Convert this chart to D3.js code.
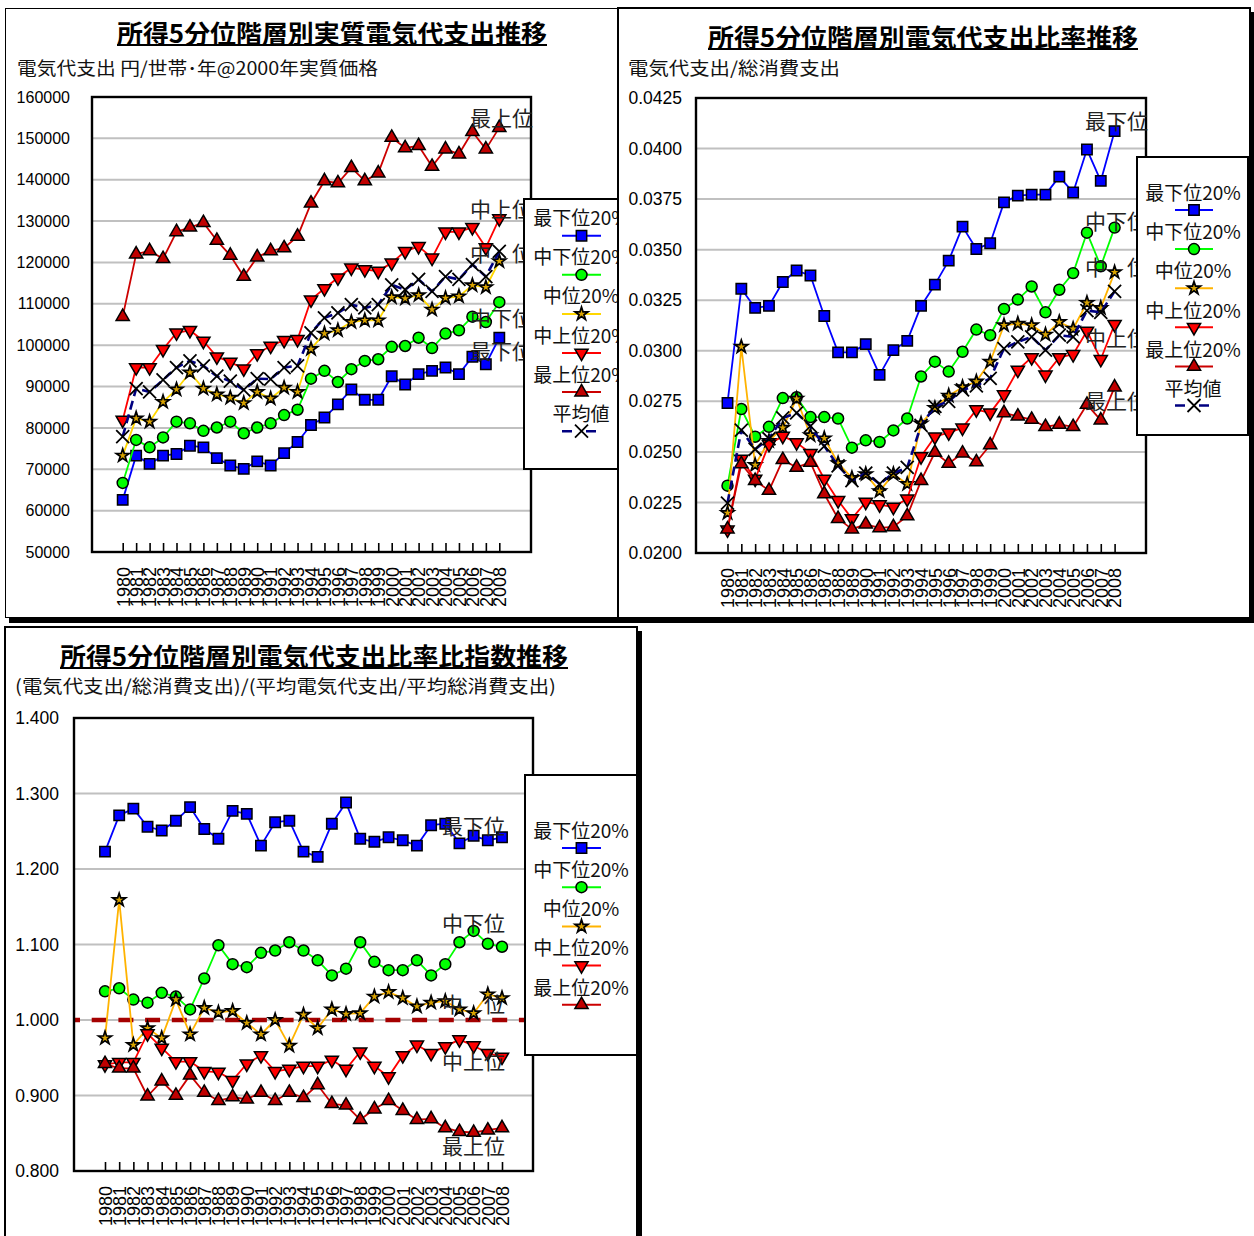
<!DOCTYPE html>
<html><head><meta charset="utf-8">
<script src="https://cdn.jsdelivr.net/npm/d3@7"></script>
<style>body{margin:0;background:#fff;overflow:hidden} svg{display:block}</style>
</head><body>
<svg id="c" width="1254" height="1236"></svg>
<script>
// ---------- DATA ----------
const years = ["1980","1981","1982","1983","1984","1985","1986","1987","1988","1989","1990","1991","1992","1993","1994","1995","1996","1997","1998","1999","2000","2001","2002","2003","2004","2005","2006","2007","2008"];
const seriesNames = ["最下位20%","中下位20%","中位20%","中上位20%","最上位20%","平均値"];
const tierLabels = ["最下位","中下位","中　位","中上位","最上位"];

// Panel 1: real electricity expenditure (yen / household / year, 2000 prices)
const p1Bottom = [62600,73300,71300,73300,73700,75700,75300,72700,70900,70100,71900,70900,73900,76600,80700,82500,85700,89300,86800,86800,92500,90500,93000,93800,94600,93000,97200,95400,101800];
const p1LowMid = [66700,77100,75300,77700,81500,81100,79300,80100,81500,78700,80100,81100,83100,84400,91900,93800,91100,94200,96200,96600,99600,99800,101800,99300,102800,103600,106900,105600,110400];
const p1Mid    = [73300,82300,81500,86300,89300,93400,89500,88100,87300,86000,88700,87100,89700,88700,99100,102800,103600,105600,106000,106000,111600,111300,112100,108600,111400,111800,114500,114000,120300];
const p1UpMid  = [81900,94600,94600,99000,103000,103600,101000,97200,95900,94300,98000,99800,101200,101400,111000,113700,116300,118700,118300,117900,119900,122700,123900,121100,127400,127400,128500,123600,130600];
const p1Top    = [106900,122000,122800,120900,127400,128500,129600,125300,121700,116600,121300,122800,123500,126300,134300,139700,139200,142900,139700,141600,150200,147700,148200,143200,147400,146200,151600,147400,152600];
const p1Avg    = [77900,89500,88700,91600,94600,96200,95000,92500,91300,89200,91900,91800,94600,95000,103000,106600,107800,109800,109000,109800,114600,113400,115900,113000,116600,115900,119500,116600,122700];
const p1Ticks  = [50000,60000,70000,80000,90000,100000,110000,120000,130000,140000,150000,160000];

// Panel 2: electricity expenditure / total consumption expenditure
const p2Bottom = [0.02742,0.03307,0.03212,0.03222,0.03340,0.03397,0.03372,0.03172,0.02992,0.02992,0.03033,0.02881,0.03003,0.03049,0.03222,0.03327,0.03446,0.03614,0.03503,0.03532,0.03734,0.03767,0.03772,0.03772,0.03861,0.03783,0.03995,0.03840,0.04086];
const p2LowMid = [0.02333,0.02712,0.02575,0.02624,0.02766,0.02770,0.02672,0.02672,0.02665,0.02521,0.02557,0.02549,0.02606,0.02665,0.02873,0.02946,0.02897,0.02995,0.03105,0.03077,0.03207,0.03253,0.03318,0.03190,0.03302,0.03384,0.03584,0.03418,0.03609];
const p2Mid    = [0.02198,0.03020,0.02435,0.02554,0.02619,0.02763,0.02582,0.02567,0.02444,0.02371,0.02390,0.02306,0.02390,0.02341,0.02640,0.02717,0.02778,0.02820,0.02848,0.02946,0.03126,0.03134,0.03126,0.03080,0.03142,0.03109,0.03237,0.03212,0.03388];
const p2UpMid  = [0.02115,0.02464,0.02366,0.02538,0.02578,0.02546,0.02493,0.02366,0.02260,0.02170,0.02252,0.02239,0.02227,0.02268,0.02477,0.02575,0.02595,0.02619,0.02709,0.02693,0.02783,0.02905,0.02967,0.02881,0.02967,0.02982,0.03098,0.02958,0.03131];
const p2Top    = [0.02118,0.02440,0.02358,0.02309,0.02461,0.02423,0.02448,0.02292,0.02170,0.02118,0.02142,0.02124,0.02129,0.02183,0.02358,0.02497,0.02443,0.02493,0.02450,0.02534,0.02693,0.02676,0.02660,0.02624,0.02636,0.02624,0.02734,0.02657,0.02820];
const p2Avg    = [0.02247,0.02608,0.02513,0.02565,0.02668,0.02693,0.02627,0.02529,0.02431,0.02358,0.02395,0.02341,0.02395,0.02423,0.02631,0.02725,0.02750,0.02807,0.02827,0.02864,0.03011,0.03044,0.03069,0.03003,0.03077,0.03069,0.03199,0.03190,0.03294];
const p2Ticks  = [0.0200,0.0225,0.0250,0.0275,0.0300,0.0325,0.0350,0.0375,0.0400,0.0425];

// Panel 3: ratio index vs. average
const p3Bottom = [1.223,1.271,1.280,1.256,1.251,1.264,1.282,1.253,1.240,1.277,1.273,1.231,1.262,1.264,1.223,1.216,1.260,1.288,1.240,1.236,1.242,1.238,1.231,1.258,1.260,1.234,1.244,1.238,1.242];
const p3LowMid = [1.038,1.042,1.027,1.023,1.036,1.031,1.014,1.055,1.099,1.074,1.070,1.089,1.092,1.103,1.092,1.079,1.059,1.068,1.103,1.077,1.066,1.066,1.079,1.059,1.074,1.103,1.118,1.101,1.097];
const p3Mid    = [0.976,1.159,0.967,0.989,0.976,1.027,0.981,1.016,1.010,1.012,0.996,0.981,1.000,0.966,1.007,0.989,1.014,1.008,1.009,1.031,1.037,1.029,1.018,1.023,1.025,1.014,1.009,1.034,1.029];
const p3UpMid  = [0.941,0.944,0.944,0.982,0.963,0.945,0.945,0.932,0.931,0.920,0.942,0.953,0.932,0.935,0.939,0.939,0.947,0.935,0.958,0.939,0.925,0.953,0.967,0.956,0.965,0.974,0.966,0.956,0.951];
const p3Top    = [0.942,0.936,0.936,0.899,0.919,0.900,0.927,0.904,0.893,0.898,0.895,0.904,0.893,0.904,0.897,0.914,0.889,0.887,0.868,0.882,0.893,0.880,0.868,0.869,0.857,0.852,0.851,0.854,0.857];
const p3Ticks  = [0.8,0.9,1.0,1.1,1.2,1.3,1.4];
const p3RefLine = 1.0;

// ---------- STYLE ----------
const FONT_JP = "'Noto Sans CJK JP','Noto Sans',sans-serif";
const FONT_NUM = "'Liberation Sans',Arial,sans-serif";
const styles = [
  {line:"#0000FF", fill:"#0000FF", marker:"square"},
  {line:"#00FF00", fill:"#00FF00", marker:"circle"},
  {line:"#FFB300", fill:"#D9A300", marker:"star"},
  {line:"#FF0000", fill:"#FF0000", marker:"tridown"},
  {line:"#CC0000", fill:"#C00000", marker:"triup"},
  {line:"#000080", fill:"none", marker:"x", dash:"9,5", width:2.6}
];
function markerPath(t){
  switch(t){
    case "square": return "M-5.2,-5.2h10.4v10.4h-10.4z";
    case "circle": return d3.symbol(d3.symbolCircle, 95)();
    case "triup": return "M0,-7.6L6.6,3.8L-6.6,3.8Z";
    case "tridown": return "M0,7.6L6.6,-3.8L-6.6,-3.8Z";
    case "star": return d3.symbol(d3.symbolStar, 52)();
    case "x": return "M-6.5,-6.5L6.5,6.5M-6.5,6.5L6.5,-6.5";
  }
}
function drawMarker(sel, st){
  sel.attr("d", markerPath(st.marker))
    .attr("fill", st.marker==="x" ? "none" : st.fill)
    .attr("stroke", "#000")
    .attr("stroke-width", st.marker==="x" ? 1.8 : (st.marker==="star" ? 1.7 : 1.5))
    .attr("stroke-linejoin","miter");
}

const svg = d3.select("#c");
const defs = svg.append("defs");

// ---------- PANELS ----------
const panels = [
  {
    box:{x:5,y:8,w:613,h:610}, clip:true,
    title:"所得5分位階層別実質電気代支出推移", tX:117, tW:430, tY:32,
    sub:"電気代支出 円/世帯･年@2000年実質価格", sX:17, sW:361, sY:67,
    plot:{l:92,r:531,t:97,b:552}, xr:[122.7,499.3], yd:[50000,160000], ticks:p1Ticks,
    fmt:d3.format("d"), yFont:16, yPad:22,
    data:[p1Bottom,p1LowMid,p1Mid,p1UpMid,p1Top,p1Avg], midLine:"#FFD700",
    labelX:470, labelY:[350,317,252,208,117],
    legend:{x:524,y:199,w:130,h:270,cx:581,lx:[562,601],ty:216.7,sy:235.7,step:39.1,n:6}
  },
  {
    box:{x:618,y:8,w:632,h:610}, clip:false,
    title:"所得5分位階層別電気代支出比率推移", tX:708, tW:430, tY:36,
    sub:"電気代支出/総消費支出", sX:628, sW:212, sY:67,
    plot:{l:696,r:1146,t:98,b:553}, xr:[727.5,1114.6], yd:[0.02,0.0425], ticks:p2Ticks,
    fmt:d3.format(".4f"), yFont:17.5, yPad:14,
    data:[p2Bottom,p2LowMid,p2Mid,p2UpMid,p2Top,p2Avg], midLine:"#FFB300",
    labelX:1085, labelY:[120,220,266,337,400],
    legend:{x:1137,y:157,w:111,h:278,cx:1193,lx:[1175,1213],ty:191.7,sy:210,step:39.1,n:6}
  },
  {
    box:{x:5,y:627,w:632,h:620}, clip:false,
    title:"所得5分位階層別電気代支出比率比指数推移", tX:60, tW:508, tY:655,
    sub:"(電気代支出/総消費支出)/(平均電気代支出/平均総消費支出)", sX:15, sW:541, sY:685,
    plot:{l:74,r:533,t:718,b:1171}, xr:[105,502], yd:[0.8,1.4], ticks:p3Ticks,
    fmt:d3.format(".3f"), yFont:17.5, yPad:15,
    data:[p3Bottom,p3LowMid,p3Mid,p3UpMid,p3Top], midLine:"#FFB300",
    labelX:442, labelY:[825,922,1003,1060,1145], ref:p3RefLine,
    legend:{x:525,y:775,w:112,h:280,cx:581,lx:[562,601],ty:829.3,sy:848,step:39.2,n:5}
  }
];

// shadows (drop shadows of the chart frames)
svg.append("rect").attr("x",9).attr("y",618).attr("width",1245).attr("height",5).attr("fill","#000");
svg.append("rect").attr("x",1249).attr("y",12).attr("width",5).attr("height",611).attr("fill","#000");
svg.append("rect").attr("x",637).attr("y",631).attr("width",5).attr("height",620).attr("fill","#000");

panels.forEach((P, pi) => {
  const g = svg.append("g");
  if (P.clip) {
    defs.append("clipPath").attr("id","clip"+pi).append("rect")
      .attr("x",P.box.x).attr("y",P.box.y).attr("width",P.box.w).attr("height",P.box.h);
    g.attr("clip-path",`url(#clip${pi})`);
  }
  g.append("rect").attr("x",P.box.x).attr("y",P.box.y).attr("width",P.box.w).attr("height",P.box.h)
    .attr("fill","#fff");

  // title + underline
  g.append("text").attr("x",P.tX).attr("y",P.tY).attr("dominant-baseline","central")
    .attr("font-family",FONT_JP).attr("font-weight","bold").attr("font-size",25)
    .attr("textLength",P.tW).attr("lengthAdjust","spacingAndGlyphs").attr("fill","#000").text(P.title);
  g.append("line").attr("x1",P.tX).attr("x2",P.tX+P.tW).attr("y1",P.tY+13).attr("y2",P.tY+13)
    .attr("stroke","#000").attr("stroke-width",2);
  g.append("text").attr("x",P.sX).attr("y",P.sY).attr("dominant-baseline","central")
    .attr("font-family",FONT_JP).attr("font-size",18)
    .attr("textLength",P.sW).attr("lengthAdjust","spacingAndGlyphs").attr("fill","#111").text(P.sub);

  const x = d3.scalePoint().domain(years).range(P.xr);
  const y = d3.scaleLinear().domain(P.yd).range([P.plot.b, P.plot.t]);
  const pl = P.plot;

  // gridlines
  g.append("g").selectAll("line").data(P.ticks.slice(1,-1)).join("line")
    .attr("x1",pl.l).attr("x2",pl.r).attr("y1",d=>y(d)).attr("y2",d=>y(d))
    .attr("stroke","#C0C0C0").attr("stroke-width",2);

  // reference line
  if (P.ref !== undefined) {
    g.append("line").attr("x1",pl.l).attr("x2",pl.r).attr("y1",y(P.ref)).attr("y2",y(P.ref))
      .attr("stroke","#A50000").attr("stroke-width",4.5).attr("stroke-dasharray","15,11.7").attr("stroke-dashoffset",9);
  }

  // y axis labels
  const ya = g.append("g").attr("transform",`translate(${pl.l},0)`)
    .call(d3.axisLeft(y).tickValues(P.ticks).tickSize(0).tickPadding(P.yPad).tickFormat(P.fmt));
  ya.select(".domain").remove();
  ya.selectAll("text").attr("font-family",FONT_NUM).attr("font-size",P.yFont).attr("fill","#000");

  // x axis (inside ticks, rotated labels)
  const xa = g.append("g").attr("transform",`translate(0,${pl.b})`)
    .call(d3.axisBottom(x).tickSize(-9).tickPadding(0));
  xa.select(".domain").remove();
  xa.selectAll(".tick line").attr("stroke","#000").attr("stroke-width",1.6);
  xa.selectAll("text").attr("font-family",FONT_NUM).attr("font-size",18).attr("fill","#000")
    .attr("transform","rotate(-90)").attr("text-anchor","end").attr("x",-15).attr("y",0).attr("dy","0.35em");

  // series
  P.data.forEach((arr, si) => {
    const st = Object.assign({}, styles[si]);
    if (si===2) st.line = P.midLine;
    const pts = arr.map((v,i)=>[x(years[i]), y(v)]);
    g.append("path").attr("d", d3.line()(pts)).attr("fill","none")
      .attr("stroke", st.line).attr("stroke-width", st.width || 1.8)
      .attr("stroke-dasharray", st.dash || null).attr("stroke-linejoin","round");
    g.append("g").selectAll("path").data(pts).join("path")
      .attr("transform", d=>`translate(${d[0]},${d[1]})`).call(drawMarker, st);
  });

  // plot frame
  g.append("rect").attr("x",pl.l).attr("y",pl.t).attr("width",pl.r-pl.l).attr("height",pl.b-pl.t)
    .attr("fill","none").attr("stroke","#000").attr("stroke-width",2.4);

  // tier labels inside plot
  tierLabels.forEach((t,i)=>{
    g.append("text").attr("x",P.labelX).attr("y",P.labelY[i]).attr("dominant-baseline","central")
      .attr("font-family",FONT_JP).attr("font-size",21).attr("fill","#222").text(t);
  });

  // legend
  const L = P.legend;
  const lg = g.append("g");
  lg.append("rect").attr("x",L.x).attr("y",L.y).attr("width",L.w).attr("height",L.h)
    .attr("fill","#fff").attr("stroke","#000").attr("stroke-width",2);
  for (let i=0;i<L.n;i++){
    const st = Object.assign({}, styles[i]);
    if (i===2) st.line = P.midLine;
    lg.append("text").attr("x",L.cx).attr("y",L.ty+i*L.step).attr("text-anchor","middle")
      .attr("dominant-baseline","central").attr("font-family",FONT_JP).attr("font-size",19)
      .attr("fill","#111").text(seriesNames[i]);
    const sy = L.sy + i*L.step;
    lg.append("line").attr("x1",L.lx[0]).attr("x2",L.lx[1]).attr("y1",sy).attr("y2",sy)
      .attr("stroke",st.line).attr("stroke-width",st.width||2).attr("stroke-dasharray",st.dash?"10,14":null);
    lg.append("path").attr("transform",`translate(${(L.lx[0]+L.lx[1])/2},${sy})`).call(drawMarker, st);
  }

  // panel border (on top)
  g.append("rect").attr("x",P.box.x).attr("y",P.box.y).attr("width",P.box.w).attr("height",P.box.h)
    .attr("fill","none").attr("stroke","#000").attr("stroke-width",2);
});
</script>
</body></html>
